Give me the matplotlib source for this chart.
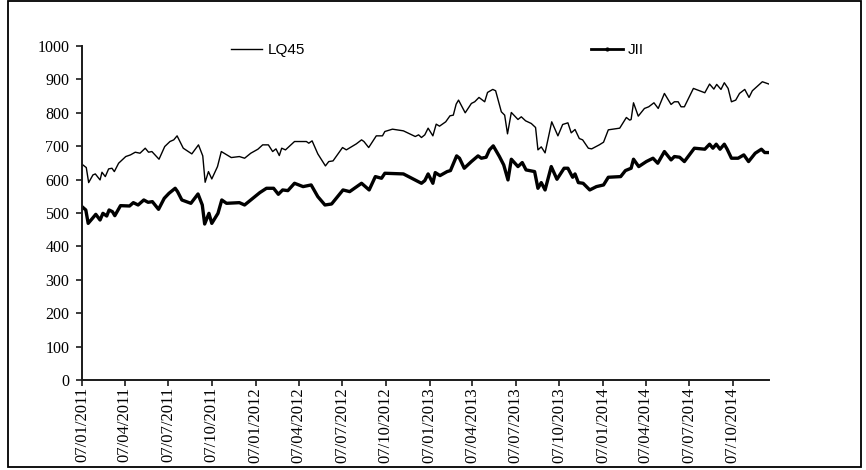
import matplotlib
matplotlib.use("Agg")
import matplotlib.pyplot as plt
from matplotlib.lines import Line2D
from matplotlib.patches import Rectangle
import pandas as pd

plt.rcParams["font.family"] = ["Liberation Serif", "DejaVu Serif"]

# ---- data ----
lq45_dates = [
    "2011-01-07", "2011-01-16", "2011-01-21", "2011-01-30", "2011-02-04", "2011-02-14", "2011-02-18",
    "2011-02-25", "2011-03-04", "2011-03-11", "2011-03-16", "2011-03-25", "2011-04-09", "2011-04-19",
    "2011-04-29", "2011-05-09", "2011-05-20", "2011-05-27", "2011-06-03", "2011-06-18", "2011-06-30",
    "2011-07-11", "2011-07-19", "2011-07-26", "2011-08-08", "2011-08-26", "2011-09-09", "2011-09-18",
    "2011-09-23", "2011-09-30", "2011-10-07", "2011-10-19", "2011-10-27", "2011-11-17", "2011-12-04",
    "2011-12-15", "2011-12-28", "2012-01-12", "2012-01-22", "2012-02-03", "2012-02-12", "2012-02-19",
    "2012-02-26", "2012-03-02", "2012-03-10", "2012-03-29", "2012-04-23", "2012-04-28", "2012-05-05",
    "2012-05-17", "2012-06-02", "2012-06-09", "2012-06-18", "2012-07-08", "2012-07-16", "2012-08-06",
    "2012-08-17", "2012-08-22", "2012-09-01", "2012-09-17", "2012-09-30", "2012-10-05", "2012-10-21",
    "2012-11-13", "2012-12-08", "2012-12-15", "2012-12-21", "2012-12-28", "2013-01-04", "2013-01-14",
    "2013-01-21", "2013-01-28", "2013-02-10", "2013-02-19", "2013-02-26", "2013-03-04", "2013-03-09",
    "2013-03-23", "2013-04-05", "2013-04-12", "2013-04-21", "2013-05-03", "2013-05-09", "2013-05-20",
    "2013-05-26", "2013-06-07", "2013-06-14", "2013-06-20", "2013-06-28", "2013-07-12", "2013-07-19",
    "2013-07-28", "2013-08-09", "2013-08-18", "2013-08-23", "2013-08-30", "2013-09-07", "2013-09-21",
    "2013-10-04", "2013-10-14", "2013-10-25", "2013-11-01", "2013-11-09", "2013-11-18", "2013-11-25",
    "2013-12-07", "2013-12-14", "2013-12-30", "2014-01-08", "2014-01-18", "2014-02-11", "2014-02-25",
    "2014-03-04", "2014-03-07", "2014-03-12", "2014-03-22", "2014-04-04", "2014-04-13", "2014-04-24",
    "2014-05-03", "2014-05-16", "2014-05-30", "2014-06-06", "2014-06-14", "2014-06-20", "2014-06-27",
    "2014-07-16", "2014-08-09", "2014-08-19", "2014-08-28", "2014-09-03", "2014-09-12", "2014-09-19",
    "2014-09-27", "2014-10-04", "2014-10-13", "2014-10-21", "2014-11-01", "2014-11-10", "2014-11-17",
    "2014-12-08", "2014-12-22",
]
lq45_values = [
    646, 636, 591, 614, 617, 599, 622,
    609, 632, 634, 624, 649, 669, 674,
    682, 679, 694, 682, 684, 661, 699,
    714, 719, 731, 694, 677, 704, 671,
    592, 624, 602, 639, 684, 666, 669,
    664, 679, 691, 704, 704, 684, 692,
    672, 694, 689, 714, 714, 709, 716,
    677, 641, 654, 656, 696, 689, 707,
    719, 714, 696, 731, 731, 744, 751,
    746, 729, 734, 726, 734, 754, 731,
    766, 760, 773, 791, 793, 826, 838,
    800, 828, 833, 846, 833, 861, 870,
    866, 803, 793, 737, 801, 780, 788,
    776, 768, 756, 689, 698, 680, 773,
    731, 765, 770, 740, 750, 723, 719,
    694, 692, 704, 712, 749, 754, 786,
    778, 780, 830, 790, 813, 818, 830,
    813, 858, 825, 833, 833, 818, 818,
    873, 860, 886, 871, 885, 870, 890,
    873, 833, 838, 858, 870, 846, 866,
    893, 886,
]

jii_dates = [
    "2011-01-07", "2011-01-15", "2011-01-20", "2011-01-29", "2011-02-05", "2011-02-14", "2011-02-20",
    "2011-02-28", "2011-03-05", "2011-03-12", "2011-03-17", "2011-03-29", "2011-04-17", "2011-04-25",
    "2011-05-05", "2011-05-17", "2011-05-26", "2011-06-04", "2011-06-17", "2011-06-29", "2011-07-09",
    "2011-07-22", "2011-07-27", "2011-08-05", "2011-08-24", "2011-09-08", "2011-09-17", "2011-09-22",
    "2011-10-01", "2011-10-07", "2011-10-20", "2011-10-28", "2011-11-07", "2011-12-04", "2011-12-15",
    "2012-01-16", "2012-01-30", "2012-02-14", "2012-02-24", "2012-03-04", "2012-03-15", "2012-03-29",
    "2012-04-16", "2012-05-03", "2012-05-17", "2012-06-01", "2012-06-15", "2012-07-09", "2012-07-23",
    "2012-08-17", "2012-09-02", "2012-09-15", "2012-09-28", "2012-10-05", "2012-11-13", "2012-12-21",
    "2012-12-28", "2013-01-04", "2013-01-14", "2013-01-19", "2013-01-29", "2013-02-13", "2013-02-20",
    "2013-03-05", "2013-03-11", "2013-03-21", "2013-04-05", "2013-04-19", "2013-04-26", "2013-05-06",
    "2013-05-13", "2013-05-21", "2013-06-03", "2013-06-12", "2013-06-21", "2013-06-28", "2013-07-12",
    "2013-07-21", "2013-07-29", "2013-08-16", "2013-08-23", "2013-08-30", "2013-09-07", "2013-09-20",
    "2013-10-02", "2013-10-17", "2013-10-25", "2013-11-04", "2013-11-09", "2013-11-16", "2013-11-26",
    "2013-12-10", "2013-12-24", "2014-01-08", "2014-01-18", "2014-02-13", "2014-02-23", "2014-03-07",
    "2014-03-12", "2014-03-23", "2014-04-08", "2014-04-22", "2014-05-02", "2014-05-16", "2014-05-30",
    "2014-06-06", "2014-06-17", "2014-06-27", "2014-07-18", "2014-08-09", "2014-08-19", "2014-08-26",
    "2014-09-02", "2014-09-10", "2014-09-19", "2014-09-25", "2014-10-04", "2014-10-18", "2014-10-30",
    "2014-11-09", "2014-11-23", "2014-12-06", "2014-12-13", "2014-12-22",
]
jii_values = [
    519, 509, 469, 484, 496, 479, 499,
    491, 509, 504, 492, 522, 521, 531,
    524, 539, 532, 534, 511, 544, 559,
    574, 564, 539, 529, 557, 524, 467,
    499, 469, 499, 539, 529, 531, 524,
    561, 574, 574, 556, 569, 567, 589,
    579, 584, 549, 524, 527, 569, 564,
    589, 569, 609, 604, 619, 617, 589,
    597, 617, 589, 621, 612, 624, 627,
    671, 664, 634, 654, 671, 664, 667,
    689, 701, 669, 644, 599, 661, 639,
    651, 629, 624, 574, 591, 569, 639,
    601, 634, 634, 607, 617, 591, 589,
    569, 579, 584, 607, 609, 627, 634,
    661, 639, 654, 664, 649, 684, 659,
    669, 667, 654, 694, 691, 706, 694,
    706, 691, 706, 691, 664, 664, 674,
    654, 679, 691, 681, 681,
]

series_names = ["LQ45", "JII"]
tick_start = "2011-01-07"
n_ticks = 16
y_ticks = [0, 100, 200, 300, 400, 500, 600, 700, 800, 900, 1000]

# ---- figure ----
W, H = 866, 470
fig = plt.figure(figsize=(W / 100, H / 100), dpi=100)
fig.patch.set_facecolor("white")

def fx(px):
    return px / W

def fy(py):
    return 1 - py / H

ax = fig.add_axes([fx(82), fy(380), fx(769) - fx(82), fy(46) - fy(380)])

ld = pd.to_datetime(lq45_dates)
jd = pd.to_datetime(jii_dates)
ax.plot(ld, lq45_values, color="black", lw=1.0, solid_joinstyle="round")
ax.plot(jd, jii_values, color="black", lw=2.4, solid_joinstyle="round")

ax.set_ylim(0, 1000)
ax.set_xlim(ld[0], ld[-1])
ax.set_yticks(y_ticks)
ax.set_yticklabels([str(v) for v in y_ticks], fontsize=11.5)

xt = pd.date_range(tick_start, periods=n_ticks, freq=pd.DateOffset(months=3))
ax.set_xticks(xt)
ax.set_xticklabels([d.strftime("%d/%m/%Y") for d in xt], rotation=90,
                   ha="center", va="top", fontsize=12)

for s in ["top", "right"]:
    ax.spines[s].set_visible(False)
for s in ["left", "bottom"]:
    ax.spines[s].set_color("#1a1a1a")
    ax.spines[s].set_linewidth(1.4)

ax.tick_params(axis="y", direction="out", length=4, width=1.2, pad=5, color="#1a1a1a")
ax.tick_params(axis="x", direction="out", length=4.5, width=1.2, pad=0.5, color="#1a1a1a")

# ---- legends ----
sans = "Liberation Sans"
h1 = Line2D([], [], color="black", lw=1.0)
h2 = Line2D([], [], color="black", lw=2.0, marker="o", markersize=2.0)
fig.legend([h1], [series_names[0]], loc="center left",
           bbox_to_anchor=(fx(231), fy(50)), frameon=False,
           prop={"family": sans, "size": 11}, handlelength=2.0,
           handletextpad=0.4, borderpad=0, borderaxespad=0)
fig.legend([h2], [series_names[1]], loc="center left",
           bbox_to_anchor=(fx(591), fy(50)), frameon=False,
           prop={"family": sans, "size": 11}, handlelength=2.1,
           handletextpad=0.3, borderpad=0, borderaxespad=0)

# ---- outer border ----
fig.patches.append(Rectangle((fx(8), fy(467)), fx(861) - fx(8), fy(1) - fy(467),
                             transform=fig.transFigure, fill=False,
                             edgecolor="black", lw=1.3))

fig.savefig("out.png", dpi=100)
